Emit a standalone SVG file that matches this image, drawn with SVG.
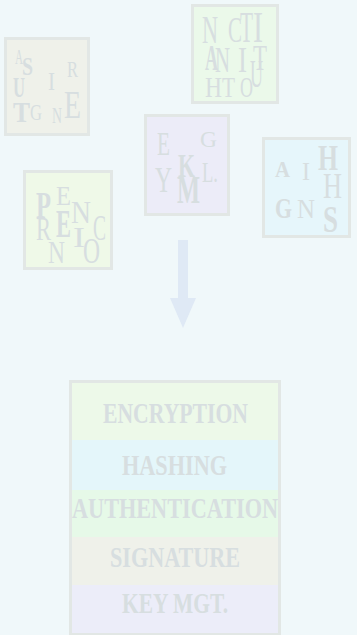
<svg xmlns="http://www.w3.org/2000/svg" width="357" height="635" viewBox="0 0 357 635">
<style>
.box{stroke:#e2e7e5;stroke-width:3}
.l{font-family:"Liberation Serif",serif;fill:#d7dee0}
.b{font-weight:bold}
.t{font-family:"Liberation Serif",serif;font-weight:bold;fill:#d7dee0;font-size:30px}
</style>
<rect width="357" height="635" fill="#f0f8fa"/>
<g id="signature-box">
<rect class="box" x="5.5" y="38.5" width="83" height="96" fill="#eff1ea"/>
<text class="l" lengthAdjust="spacingAndGlyphs"><tspan x="15" y="64" font-size="21" textLength="8" lengthAdjust="spacingAndGlyphs">A</tspan><tspan class="b" x="22" y="75" font-size="26" textLength="11" lengthAdjust="spacingAndGlyphs">S</tspan><tspan x="48" y="90" font-size="26" textLength="7" lengthAdjust="spacingAndGlyphs">I</tspan><tspan x="67" y="77" font-size="23" textLength="11" lengthAdjust="spacingAndGlyphs">R</tspan><tspan class="b" x="13" y="97" font-size="30" textLength="12" lengthAdjust="spacingAndGlyphs">U</tspan><tspan class="b" x="13" y="122" font-size="30" textLength="17" lengthAdjust="spacingAndGlyphs">T</tspan><tspan x="30" y="120" font-size="23" textLength="12" lengthAdjust="spacingAndGlyphs">G</tspan><tspan x="52" y="123" font-size="24" textLength="10" lengthAdjust="spacingAndGlyphs">N</tspan><tspan x="64" y="118" font-size="39" textLength="17" lengthAdjust="spacingAndGlyphs">E</tspan></text>
</g>
<g id="authentication-box">
<rect class="box" x="192.5" y="5.5" width="85" height="97" fill="#ebf9ea"/>
<text class="l"><tspan x="202" y="43" font-size="39" textLength="16" lengthAdjust="spacingAndGlyphs">N</tspan><tspan x="228" y="42" font-size="36" textLength="14" lengthAdjust="spacingAndGlyphs">C</tspan><tspan x="240" y="42" font-size="44" textLength="13" lengthAdjust="spacingAndGlyphs">T</tspan><tspan x="253" y="42" font-size="44" textLength="10" lengthAdjust="spacingAndGlyphs">I</tspan><tspan class="b" x="205" y="70" font-size="35" textLength="13" lengthAdjust="spacingAndGlyphs">A</tspan><tspan x="215" y="72" font-size="36" textLength="15" lengthAdjust="spacingAndGlyphs">N</tspan><tspan x="238" y="72" font-size="36" textLength="9" lengthAdjust="spacingAndGlyphs">I</tspan><tspan x="253" y="70" font-size="35" textLength="14" lengthAdjust="spacingAndGlyphs">T</tspan><tspan x="250" y="87" font-size="40" textLength="13" lengthAdjust="spacingAndGlyphs">U</tspan><tspan x="205" y="97" font-size="30" textLength="17" lengthAdjust="spacingAndGlyphs">H</tspan><tspan x="222" y="97" font-size="30" textLength="13" lengthAdjust="spacingAndGlyphs">T</tspan><tspan x="240" y="97" font-size="30" textLength="13" lengthAdjust="spacingAndGlyphs">O</tspan></text>
</g>
<g id="keymgt-box">
<rect class="box" x="145.5" y="115.5" width="83" height="99" fill="#ececf8"/>
<text class="l"><tspan x="157" y="155" font-size="33" textLength="13" lengthAdjust="spacingAndGlyphs">E</tspan><tspan x="200" y="147" font-size="23" textLength="17" lengthAdjust="spacingAndGlyphs">G</tspan><tspan class="b" x="178" y="177" font-size="33" textLength="17" lengthAdjust="spacingAndGlyphs">K</tspan><tspan x="155" y="192" font-size="36" textLength="17" lengthAdjust="spacingAndGlyphs">Y</tspan><tspan x="202" y="182" font-size="29" textLength="16" lengthAdjust="spacingAndGlyphs">L.</tspan><tspan class="b" x="177" y="203" font-size="39" textLength="23" lengthAdjust="spacingAndGlyphs">M</tspan></text>
</g>
<g id="hashing-box">
<rect class="box" x="263.5" y="138.5" width="86" height="98" fill="#e6f6fb"/>
<text class="l"><tspan class="b" x="275" y="177" font-size="23" textLength="15" lengthAdjust="spacingAndGlyphs">A</tspan><tspan x="302" y="180" font-size="26" textLength="8" lengthAdjust="spacingAndGlyphs">I</tspan><tspan class="b" x="318" y="170" font-size="35" textLength="20" lengthAdjust="spacingAndGlyphs">H</tspan><tspan x="323" y="198" font-size="35" textLength="19" lengthAdjust="spacingAndGlyphs">H</tspan><tspan class="b" x="275" y="218" font-size="30" textLength="17" lengthAdjust="spacingAndGlyphs">G</tspan><tspan x="297" y="218" font-size="27" textLength="18" lengthAdjust="spacingAndGlyphs">N</tspan><tspan class="b" x="323" y="232" font-size="38" textLength="15" lengthAdjust="spacingAndGlyphs">S</tspan></text>
</g>
<g id="encryption-box">
<rect class="box" x="24.5" y="171.5" width="87" height="97" fill="#eff9e8"/>
<text class="l"><tspan x="56" y="205" font-size="27" textLength="15" lengthAdjust="spacingAndGlyphs">E</tspan><tspan class="b" x="36" y="218" font-size="38" textLength="15" lengthAdjust="spacingAndGlyphs">P</tspan><tspan x="71" y="223" font-size="32" textLength="20" lengthAdjust="spacingAndGlyphs">N</tspan><tspan class="b" x="56" y="237" font-size="40" textLength="15" lengthAdjust="spacingAndGlyphs">E</tspan><tspan x="93" y="240" font-size="35" textLength="13" lengthAdjust="spacingAndGlyphs">C</tspan><tspan x="36" y="240" font-size="33" textLength="15" lengthAdjust="spacingAndGlyphs">R</tspan><tspan x="73" y="247" font-size="29" textLength="12" lengthAdjust="spacingAndGlyphs">I</tspan><tspan x="48" y="263" font-size="32" textLength="17" lengthAdjust="spacingAndGlyphs">N</tspan><tspan x="83" y="263" font-size="35" textLength="17" lengthAdjust="spacingAndGlyphs">O</tspan></text>
</g>
<g id="connectors">
<polygon points="178,240 188,240 188,298 196,298 183,328 170,298 178,298" fill="#dfe9f5"/>
</g>
<g id="stack">
<rect x="72" y="383" width="206" height="57" fill="#edf9e9"/>
<rect x="72" y="440" width="206" height="50" fill="#e4f6fa"/>
<rect x="72" y="490" width="206" height="47" fill="#e6f9e8"/>
<rect x="72" y="537" width="206" height="48" fill="#eff1ea"/>
<rect x="72" y="585" width="206" height="49" fill="#ecedf9"/>
<rect x="70.5" y="381.5" width="209" height="253" fill="none" stroke="#e2e7e5" stroke-width="3"/>
<text class="t" x="103" y="423" textLength="145" lengthAdjust="spacingAndGlyphs">ENCRYPTION</text>
<text class="t" x="122" y="475" textLength="105" lengthAdjust="spacingAndGlyphs">HASHING</text>
<text class="t" x="72" y="518" font-size="28" textLength="206" lengthAdjust="spacingAndGlyphs">AUTHENTICATION</text>
<text class="t" x="110" y="567" textLength="130" lengthAdjust="spacingAndGlyphs">SIGNATURE</text>
<text class="t" x="122" y="613" textLength="106" lengthAdjust="spacingAndGlyphs">KEY MGT.</text>
</g>
</svg>
